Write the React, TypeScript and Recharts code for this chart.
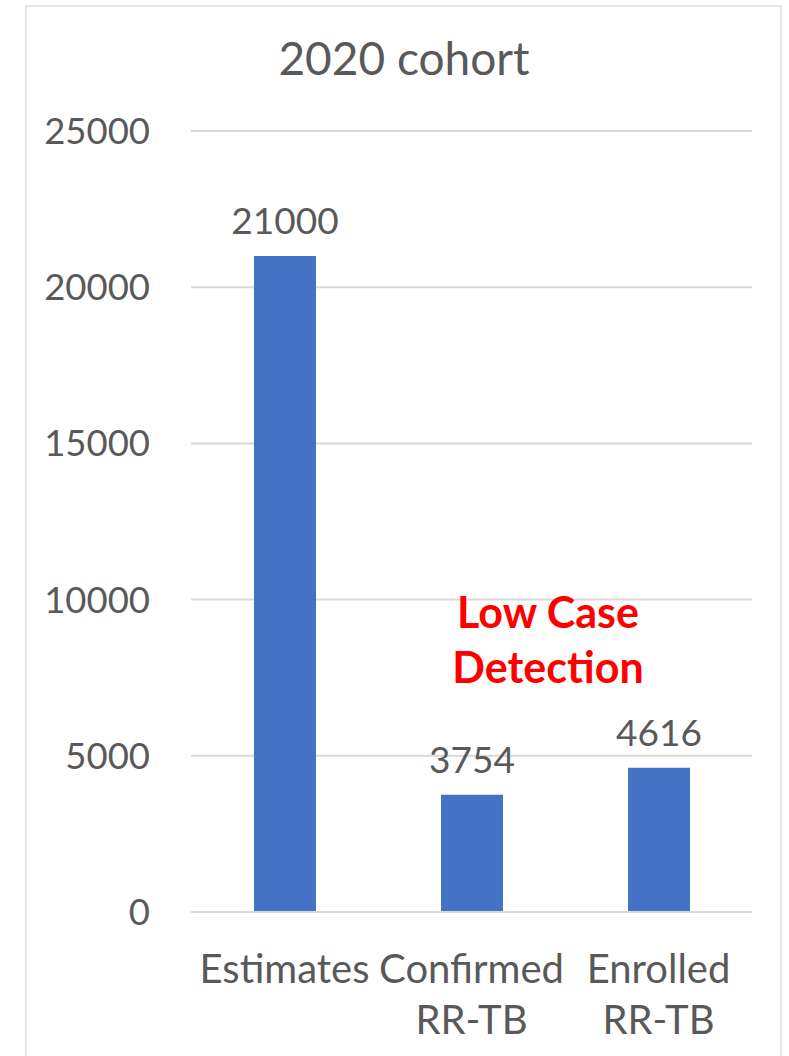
import React from "react";
import { BarChart, Bar, XAxis, YAxis, CartesianGrid, LabelList } from "recharts";

const categories = ["Estimates", "Confirmed\nRR-TB", "Enrolled\nRR-TB"];
const cases = [21000, 3754, 4616];
const yTicks = [0, 5000, 10000, 15000, 20000, 25000];
const title = "2020 cohort";
const noteLines = ["Low Case", "Detection"];

const data = categories.map((name, i) => ({ name, value: cases[i] }));

const FONT = "Lato, 'Noto Sans', sans-serif";
const TEXT = "#595959";

const CategoryTick = (props: any) => {
  const { x, y, payload } = props;
  const lines = String(payload.value).split("\n");
  return (
    <g transform={`translate(${x},${y})`}>
      {lines.map((ln: string, i: number) => (
        <text
          key={i}
          x={0}
          y={i * 51}
          dy={63}
          textAnchor="middle"
          fill={TEXT}
          fontFamily={FONT}
          fontSize={40}
        >
          {ln}
        </text>
      ))}
    </g>
  );
};

export default function App() {
  return (
    <div style={{ position: "absolute", left: 0, top: 0, width: 789, height: 1056, background: "#fff", overflow: "hidden" }}>
      <div
        style={{
          position: "absolute",
          left: 25,
          top: 5,
          width: 753,
          height: 1100,
          border: "2px solid #e6e6e6",
        }}
      />
      <div
        style={{
          position: "absolute",
          left: 0,
          width: 808,
          top: 28,
          textAlign: "center",
          fontFamily: FONT,
          fontSize: 46,
          color: TEXT,
          lineHeight: "60px",
        }}
      >
        {title}
      </div>
      <BarChart
        width={789}
        height={1056}
        data={data}
        margin={{ top: 131, right: 37, bottom: 0, left: 0 }}
        style={{ position: "absolute", left: 0, top: 0 }}
      >
        <CartesianGrid vertical={false} stroke="#d9d9d9" strokeWidth={2} />
        <YAxis
          width={191}
          domain={[0, 25000]}
          ticks={yTicks}
          interval={0}
          axisLine={false}
          tickLine={false}
          tickSize={0}
          tickMargin={41}
          tick={{ fill: TEXT, fontFamily: FONT, fontSize: 36.5 }}
        />
        <XAxis
          dataKey="name"
          height={144}
          axisLine={{ stroke: "#d9d9d9", strokeWidth: 2 }}
          tickLine={false}
          tick={<CategoryTick />}
          interval={0}
        />
        <Bar dataKey="value" fill="#4472C4" barSize={62} isAnimationActive={false}>
          <LabelList
            dataKey="value"
            position="top"
            offset={22}
            fill={TEXT}
            fontFamily={FONT}
            fontSize={37}
          />
        </Bar>
      </BarChart>
      <div
        style={{
          position: "absolute",
          left: 398,
          width: 300,
          top: 584,
          textAlign: "center",
          fontFamily: FONT,
          fontWeight: 700,
          fontSize: 43,
          color: "#ff0000",
          lineHeight: "55px",
        }}
      >
        {noteLines.map((l) => (
          <div key={l}>{l}</div>
        ))}
      </div>
    </div>
  );
}
